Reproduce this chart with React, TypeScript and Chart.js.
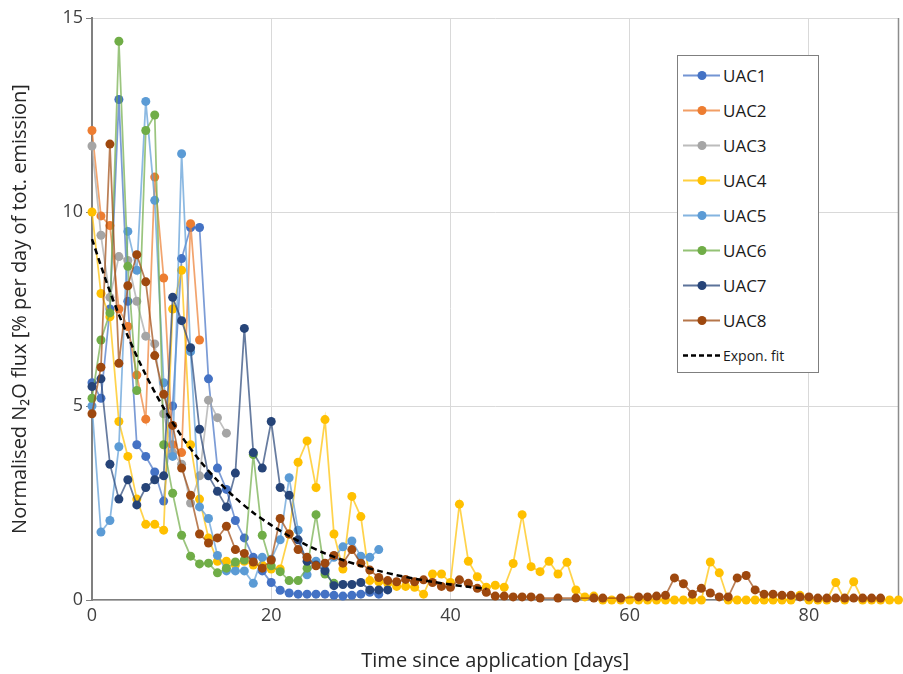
import React, { useEffect, useRef } from "react";
import { Chart, registerables } from "chart.js";

Chart.register(...registerables);

// ---- Data (x = day since application, index of each array) ----
const uac1 = [5.6, 5.2, 7.5, 12.9, 7.7, 4.0, 3.7, 3.3, 2.55, 5.0, 8.8, 9.6, 9.6, 5.7, 3.4, 2.85, 2.05, 1.6, 1.1, 0.75, 0.45, 0.25, 0.18, 0.15, 0.15, 0.15, 0.15, 0.12, 0.1, 0.12, 0.15, 0.2, 0.15];
const uac2 = [12.1, 9.9, 9.65, 7.5, 7.05, 5.8, 4.66, 10.9, 8.3, 4.0, 3.8, 9.7, 6.7];
const uac3 = [11.7, 9.4, 7.8, 8.85, 8.75, 7.7, 6.8, 6.6, 4.8, 3.8, 3.5, 2.5, 3.2, 5.15, 4.7, 4.3];
const uac4 = [10.0, 7.9, 7.3, 4.6, 3.7, 2.6, 1.95, 1.95, 1.8, 7.5, 8.5, 4.0, 2.6, 1.6, 1.0, 1.0, 0.9, 1.0, 0.9, 0.9, 0.8, 0.8, 1.7, 3.55, 4.1, 2.9, 4.65, 1.7, 0.8, 2.67, 2.15, 0.5, 0.47, 0.43, 0.35, 0.35, 0.33, 0.15, 0.67, 0.67, 0.45, 2.47, 1.0, 0.6, 0.33, 0.38, 0.33, 0.94, 2.2, 0.86, 0.73, 1.0, 0.67, 0.97, 0.26, 0.08, 0.1, 0, 0, 0, 0, 0, 0, 0, 0, 0, 0, 0, 0, 0.98, 0.7, 0, 0, 0, 0, 0, 0, 0, 0, 0.12, 0, 0, 0, 0.45, 0, 0.47, 0, 0, 0, 0, 0];
const uac5 = [5.0, 1.75, 2.05, 3.95, 9.5, 8.5, 12.85, 10.3, 5.6, 3.7, 11.5, 6.4, 2.4, 2.1, 1.15, 0.75, 0.75, 0.75, 0.43, 1.1, 1.05, 1.55, 3.15, 1.8, 0.65, 1.0, 0.77, 1.1, 1.37, 1.52, 1.13, 1.1, 1.3];
const uac6 = [5.2, 6.7, 7.4, 14.4, 8.6, 5.4, 12.1, 12.5, 4.0, 2.75, 1.67, 1.13, 0.93, 0.95, 0.7, 0.82, 0.98, 1.03, 3.75, 1.67, 0.88, 0.73, 0.5, 0.5, 0.82, 2.2, 0.67, 0.43];
const uac7 = [5.5, 5.7, 3.5, 2.6, 3.1, 2.45, 2.9, 3.1, 3.2, 7.8, 7.2, 6.5, 4.4, 3.2, 2.8, 2.4, 3.27, 7.0, 3.8, 3.4, 4.6, 2.9, 2.7, 1.55, 1.0, 0.9, 0.75, 0.37, 0.4, 0.4, 0.45, 0.26, 0.26, 0.26];
const uac8 = [4.8, 6.0, 11.75, 6.1, 8.1, 8.9, 8.2, 6.3, 5.3, 4.5, 3.4, 2.7, 1.7, 1.47, 1.6, 1.9, 1.3, 1.2, 0.98, 0.82, 1.03, 2.1, 1.7, 1.3, 1.1, 0.88, 0.95, 1.15, 0.95, 1.3, 0.95, 0.77, 0.58, 0.5, 0.47, 0.53, 0.47, 0.52, 0.45, 0.35, 0.33, 0.52, 0.43, 0.3, 0.2, 0.1, 0.1, 0.08, 0.08, 0.08, 0.05, null, 0.05, null, 0.05, null, 0.05, 0.05, null, 0.05, null, 0.08, 0.08, 0.1, 0.12, 0.57, 0.42, 0.15, 0.3, 0.18, 0.08, 0.08, 0.57, 0.63, 0.26, 0.15, 0.15, 0.12, 0.12, 0.08, 0.08, 0.05, 0.05, 0.05, 0.05, 0.05, 0.05, 0.05, 0.05];
const fitDays = [0, 2, 4, 6, 8, 10, 12, 14, 16, 18, 20, 22, 24, 26, 28, 30, 32, 34, 36, 38, 40, 42, 44];
const fitValues = [9.3, 7.95, 6.8, 5.8, 4.95, 4.22, 3.6, 3.08, 2.63, 2.25, 1.93, 1.65, 1.41, 1.2, 1.03, 0.88, 0.75, 0.64, 0.55, 0.47, 0.4, 0.34, 0.29];

const seriesNames = ["UAC1", "UAC2", "UAC3", "UAC4", "UAC5", "UAC6", "UAC7", "UAC8"];
const seriesValues = [uac1, uac2, uac3, uac4, uac5, uac6, uac7, uac8];
const seriesColors = ["#4472C4", "#ED7D31", "#A5A5A5", "#FFC000", "#5B9BD5", "#70AD47", "#264478", "#9E480E"];
const fitName = "Expon. fit";

const xTicks = [0, 20, 40, 60, 80];
const yTicks = [0, 5, 10, 15];

const FONT = "'Open Sans', 'Noto Sans', sans-serif";

function hexA(hex: string, a: number) {
  const n = parseInt(hex.slice(1), 16);
  return `rgba(${(n >> 16) & 255},${(n >> 8) & 255},${n & 255},${a})`;
}

const rightBorder = {
  id: "rightBorder",
  beforeDatasetsDraw(chart: any) {
    const { ctx, chartArea } = chart;
    ctx.save();
    ctx.strokeStyle = "#8c8c8c";
    ctx.lineWidth = 1.5;
    ctx.beginPath();
    ctx.moveTo(chartArea.right, chartArea.top);
    ctx.lineTo(chartArea.right, chartArea.bottom);
    ctx.stroke();
    ctx.restore();
  },
};

function LegendBox() {
  const rows = seriesNames.map((n, i) => ({ name: n, color: seriesColors[i], dashed: false }));
  rows.push({ name: fitName, color: "#000000", dashed: true });
  return (
    <div
      style={{
        position: "absolute",
        left: 677,
        top: 55,
        width: 140,
        height: 316,
        border: "1px solid #7f7f7f",
        background: "#ffffff",
        fontFamily: FONT,
      }}
    >
      {rows.map((r, i) => (
        <div
          key={r.name}
          style={{
            position: "absolute",
            left: 0,
            top: 2 + i * 35,
            height: 35,
            width: 140,
            display: "flex",
            alignItems: "center",
          }}
        >
          <svg width={45} height={35} style={{ display: "block" }}>
            {r.dashed ? (
              <line x1={5} y1={17.5} x2={42} y2={17.5} stroke="#000" strokeWidth={2.5} strokeDasharray="5 3" />
            ) : (
              <>
                <line x1={5} y1={17.5} x2={42} y2={17.5} stroke={hexA(r.color, 0.75)} strokeWidth={2} />
                <circle cx={24} cy={17.5} r={4.5} fill={r.color} />
              </>
            )}
          </svg>
          <span style={{ fontSize: r.dashed ? 14 : 17, color: "#1a1a1a", whiteSpace: "nowrap" }}>{r.name}</span>
        </div>
      ))}
    </div>
  );
}

export default function App() {
  const ref = useRef<HTMLCanvasElement | null>(null);

  useEffect(() => {
    if (!ref.current) return;
    const datasets: any[] = seriesValues.map((vals, i) => ({
      label: seriesNames[i],
      data: vals.map((v, d) => ({ x: d, y: v })),
      borderColor: hexA(seriesColors[i], 0.7),
      backgroundColor: seriesColors[i],
      pointBackgroundColor: seriesColors[i],
      pointBorderWidth: 0,
      pointRadius: 4.5,
      borderWidth: 1.75,
      spanGaps: true,
      clip: false,
      order: 8 - i,
    }));
    datasets.push({
      label: fitName,
      data: fitDays.map((d, i) => ({ x: d, y: fitValues[i] })),
      borderColor: "#000000",
      borderWidth: 2.5,
      borderDash: [6, 4],
      pointRadius: 0,
      tension: 0.3,
      clip: false,
      order: 0,
    });

    const chart = new Chart(ref.current, {
      type: "line",
      data: { datasets },
      plugins: [rightBorder],
      options: {
        animation: false,
        responsive: false,
        maintainAspectRatio: false,
        layout: { padding: { left: 0, right: 3, top: 18, bottom: 0 } },
        plugins: { legend: { display: false }, tooltip: { enabled: false } },
        scales: {
          x: {
            type: "linear",
            min: 0,
            max: 90,
            afterBuildTicks: (s: any) => {
              s.ticks = xTicks.map((v) => ({ value: v }));
            },
            afterFit: (s: any) => {
              s.height = 74;
            },
            ticks: { font: { family: FONT, size: 18 }, color: "#404040", padding: 5 },
            grid: { color: "#d9d9d9", lineWidth: 1, drawTicks: false },
            border: { color: "#808080", width: 1.5 },
            title: {
              display: true,
              text: "Time since application [days]",
              font: { family: FONT, size: 20 },
              color: "#262626",
              padding: { top: 0, bottom: 1 },
            },
          },
          y: {
            type: "linear",
            min: 0,
            max: 15,
            afterBuildTicks: (s: any) => {
              s.ticks = yTicks.map((v) => ({ value: v }));
            },
            afterFit: (s: any) => {
              s.width = 92;
            },
            ticks: { font: { family: FONT, size: 18 }, color: "#404040", padding: 3 },
            grid: { color: "#d9d9d9", lineWidth: 1, tickLength: 6, tickColor: "#808080" },
            border: { color: "#808080", width: 2 },
            title: {
              display: true,
              text: "Normalised N₂O flux [% per day of tot. emission]",
              font: { family: FONT, size: 20 },
              color: "#262626",
              padding: { top: 8, bottom: 0 },
            },
          },
        },
      },
    });
    return () => chart.destroy();
  }, []);

  return (
    <div style={{ position: "fixed", left: 0, top: 0, width: 903, height: 674, background: "#fff" }}>
      <canvas ref={ref} width={903} height={674} style={{ width: 903, height: 674, display: "block" }} />
      <LegendBox />
    </div>
  );
}
